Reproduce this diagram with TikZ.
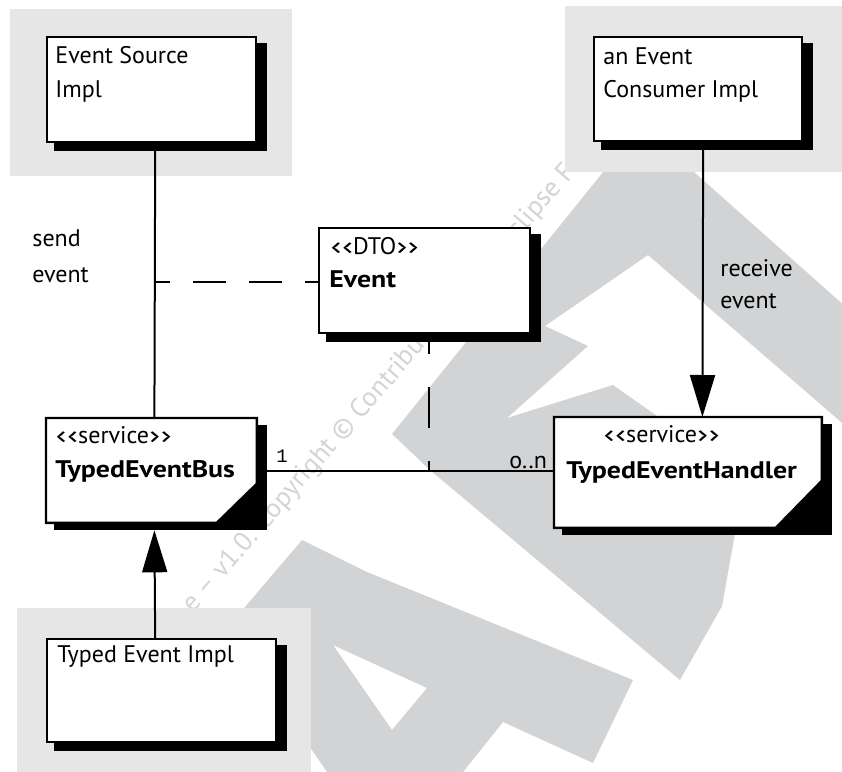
\documentclass[tikz,border=0pt]{standalone}
\usepackage{fontspec}
\usepackage{graphicx}
\setmainfont{PT Sans}[BoldFeatures={FakeStretch=1.16}]
\setmonofont{Liberation Mono}
\usetikzlibrary{arrows.meta}
\definecolor{wm}{HTML}{D1D3D4}
\definecolor{panel}{HTML}{E6E6E6}
\definecolor{wmtxt}{HTML}{D4D4D4}
\pgfdeclarelayer{bg}
\pgfdeclarelayer{shade}
\pgfsetlayers{bg,shade,main}
\newcommand\stereo[1]{\scalebox{1.6}[1]{‹‹}#1\scalebox{1.6}[1]{››}}
\tikzset{
  boxsz/.style 2 args={minimum width=#1*0.5pt,minimum height=#2*0.5pt},
  box/.style={draw=black,fill=white,line width=1.2pt,inner sep=0pt,anchor=north west},
  plainbox/.style={draw=none,fill=none,inner sep=0pt,anchor=north west},
  outline/.style={draw=black,fill=white,line width=1.2pt,line join=miter},
  txt/.style={inner sep=0pt,anchor=base west,font=\fontsize{12}{14}\selectfont},
  btxt/.style={txt,font=\fontsize{12}{14}\selectfont\bfseries},
  mono/.style={inner sep=0pt,anchor=base west,font=\ttfamily\fontsize{9.5}{11}\selectfont},
  wmtext/.style={inner sep=0pt,anchor=base west,rotate=49,text=wmtxt,font=\fontsize{13.5}{16}\selectfont},
  conn/.style={line width=1pt},
  arr/.style={conn,-{Triangle[width=12.5pt,length=21pt]}},
  dashA/.style={dash pattern=on 16.5pt off 11.5pt,dash phase=8.5pt},
  dashB/.style={dash pattern=on 20.5pt off 16.5pt,dash phase=10.5pt}
}
\begin{document}
\begin{tikzpicture}[x=0.5pt,y=-0.5pt]
\useasboundingbox (0,0) rectangle (842,772);
\begin{pgfonlayer}{bg}
  \fill[white] (0,0) rectangle (842,772);
  \fill[wm] (641,125) -- (900,355) -- (900,473) -- (648,255) -- (545,326) -- (588,346) -- (507,418) -- (430,470) -- (392,434) -- cycle;
  \fill[wm] (613,385) -- (745,478) -- (722,606) -- (680,680) -- (430,470) -- (507,418) -- cycle;
  \fill[wm,even odd rule] (302,540) -- (367,572) -- (633,680) -- (593,763) -- (503,722) -- (463,772) -- (327,772) -- (305,740) -- (230,640) -- (245,607) -- cycle
     (333,645) -- (427,688) -- (392,730) -- cycle;
  \node[wmtext] (wmt) at (193,614) {e – v1.0. Copyright © Contributors to the Eclipse Fo};
  \fill[panel] (10,9) rectangle (292,176);
  \fill[panel] (565,6) rectangle (842,172);
  \fill[panel] (17,608) rectangle (311,772);
\end{pgfonlayer}

\node[box,boxsz={209}{105}] (esi) at (46,36) {};
\node[box,boxsz={208}{104}] (eci) at (593,36) {};
\node[box,boxsz={211}{105}] (dto) at (318,227) {};
\node[plainbox,boxsz={210}{104}] (bus) at (46,418) {};
\node[plainbox,boxsz={267}{110}] (teh) at (554,417) {};
\node[box,boxsz={229}{103}] (tei) at (46,638) {};

\begin{pgfonlayer}{shade}
  \foreach \n in {esi,eci,dto,bus,teh,tei}
    \fill[black] ([shift={(8,7)}]\n.north west) rectangle ([shift={(10,7.5)}]\n.south east);
\end{pgfonlayer}

\filldraw[outline] (bus.north west) -- (bus.north east) -- ([shift={(0,-39)}]bus.south east) -- ([shift={(-40,0)}]bus.south east) -- (bus.south west) -- cycle;
\filldraw[outline] (teh.north west) -- (teh.north east) -- ([shift={(0,-47)}]teh.south east) -- ([shift={(-46,0)}]teh.south east) -- (teh.south west) -- cycle;

\node[txt] (esiA) at (55,63) {Event Source};
\node[txt] (esiB) at (55,97) {Impl};
\node[txt] (eciA) at (603,64) {an Event};
\node[txt] (eciB) at (603,97) {Consumer Impl};
\node[txt] (dtoA) at (330,254) {\stereo{DTO}};
\node[btxt] (dtoB) at (329,287) {Event};
\node[txt] (busA) at (55,443) {\stereo{service}};
\node[btxt] (busB) at (55,477) {TypedEventBus};
\node[txt] (tehA) at (603,442) {\stereo{service}};
\node[btxt] (tehB) at (566,478) {TypedEventHandler};
\node[txt] (teiA) at (57,662) {Typed Event Impl};
\node[txt] (send1) at (32,246) {send};
\node[txt] (send2) at (32,282) {event};
\node[txt] (recv1) at (720,276) {receive};
\node[txt] (recv2) at (720,308) {event};
\node[mono] (one) at (276,462) {1};
\node[txt] (many) at (509,468) {o..n};

\coordinate (sj) at (154,282);
\coordinate (dj) at (429,471);
\draw[conn] ([shift={(3.5,7.5)}]esi.south) -- ([shift={(3,0)}]bus.north);
\draw[conn,dashA] (sj) -- (sj -| dto.west);
\draw[conn,dashB] (dj |- dto.south) -- (dj);
\draw[conn] ([shift={(10,1)}]bus.east) -- ([shift={(0,-1)}]teh.west);
\draw[arr] ([shift={(5,7.5)}]eci.south) -- ([shift={(14.5,0)}]teh.north);
\draw[arr] ([shift={(-6.5,0)}]tei.north) -- ([shift={(3,7.5)}]bus.south);
\end{tikzpicture}
\end{document}
